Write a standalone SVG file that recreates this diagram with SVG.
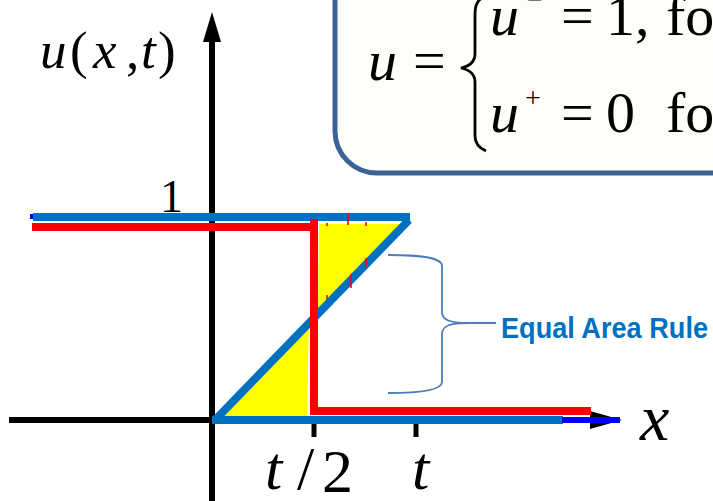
<svg xmlns="http://www.w3.org/2000/svg" width="713" height="501" viewBox="0 0 713 501">
<style>
.m{font-family:"Liberation Serif","Times New Roman",serif;font-style:italic;fill:#000}
.r{font-family:"Liberation Serif","Times New Roman",serif;fill:#000}
.ax{stroke:#000;stroke-width:6;fill:none}
.bl{stroke:#0070C0;stroke-width:8;fill:none}
.rd{stroke:#FF0000;stroke-width:8;fill:none}
.tk{stroke:#FF0000;stroke-width:1.6}
.br{stroke:#4F7DBB;stroke-width:1.8;fill:none}
</style>
<rect width="713" height="501" fill="#fff"/>
<g id="formula-box">
<rect x="335" y="-60" width="440" height="233" rx="42" fill="#FDFDF9" stroke="#3C6197" stroke-width="5"/>
<text class="m" x="368" y="80" font-size="58">u</text>
<text class="r" x="413" y="80" font-size="58">=</text>
<path d="M490 -6 C478 -2 475 4 475 14 L475 54 C475 62 470 66 461 68 C470 70 475 74 475 82 L475 136 C475 144 479 148 486 151" fill="none" stroke="#000" stroke-width="2.8"/>
<text class="m" x="490" y="35" font-size="58">u</text>
<text class="r" x="527" y="9" font-size="28">−</text>
<text class="r" x="561" y="35" font-size="58">=</text>
<text class="r" x="606" y="35" font-size="58">1,</text>
<text class="r" x="666" y="35" font-size="58">for</text>
<text class="m" x="490" y="132" font-size="58">u</text>
<text class="r" x="525" y="107" font-size="28">+</text>
<text class="r" x="561" y="132" font-size="58">=</text>
<text class="r" x="606" y="132" font-size="58">0</text>
<text class="r" x="666" y="132" font-size="58">for</text>
</g>
<g id="axes">
<line class="ax" x1="212" y1="36" x2="212" y2="501"/>
<polygon points="212,12 203,42 221,42" fill="#000"/>
<line class="ax" x1="9" y1="420" x2="214" y2="420"/>
<polygon points="622,420 590,411 590,429" fill="#000"/>
<line x1="314" y1="420" x2="314" y2="437" stroke="#000" stroke-width="5"/>
<line x1="416" y1="420" x2="416" y2="437" stroke="#000" stroke-width="5"/>
</g>
<g id="areas">
<polygon points="319,224 404,224 318,316" fill="#FFFF00"/>
<polygon points="218,416 307,416 309,318" fill="#FFFF00"/>
</g>
<g id="connectors">
<rect x="30" y="214" width="4" height="5" fill="#0000FF"/>
<line class="bl" x1="33" y1="217" x2="410" y2="217"/>
<line class="bl" x1="215" y1="420" x2="409" y2="220"/>
<line class="bl" x1="212" y1="420" x2="563" y2="420"/>
<line x1="562" y1="420" x2="620" y2="420" stroke="#0000FF" stroke-width="6"/>
<line class="rd" x1="32" y1="227" x2="318" y2="227"/>
<line class="rd" x1="314" y1="219" x2="314" y2="415"/>
<line class="rd" x1="318" y1="411" x2="591" y2="411"/>
<line class="tk" x1="348" y1="213" x2="348" y2="225"/>
<line class="tk" x1="366" y1="222" x2="366" y2="226"/>
<line class="tk" x1="366" y1="258" x2="366" y2="267"/>
<line class="tk" x1="351" y1="274" x2="351" y2="288"/>
<line class="tk" x1="327" y1="223" x2="327" y2="226"/>
<line class="tk" x1="327" y1="295" x2="327" y2="299"/>
<path class="br" d="M388 255 C420 255 442 257 442 266 L442 312 C442 320 450 323 468 323 C450 323 442 326 442 334 L442 382 C442 390 420 393 388 393 M468 323 L496 323"/>
</g>
<g id="labels">
<text class="m" font-size="53" y="68"><tspan x="40">u</tspan><tspan class="r" font-style="normal" x="70">(</tspan><tspan x="93">x</tspan><tspan font-style="normal" x="126">,</tspan><tspan x="141">t</tspan><tspan font-style="normal" x="158">)</tspan></text>
<text class="r" x="160" y="212" font-size="46" fill="#2B2318">1</text>
<text class="m" x="265" y="489" font-size="62">t</text>
<text class="r" x="297" y="489" font-size="62">/</text>
<text class="r" x="322" y="492" font-size="62">2</text>
<text class="m" x="412" y="489" font-size="62">t</text>
<text class="m" x="640" y="440" font-size="66">x</text>
<text x="501" y="338" font-family="'Liberation Sans',Arial,sans-serif" font-weight="bold" font-size="29" fill="#0070C0" textLength="207" lengthAdjust="spacingAndGlyphs">Equal Area Rule</text>
</g>
</svg>
